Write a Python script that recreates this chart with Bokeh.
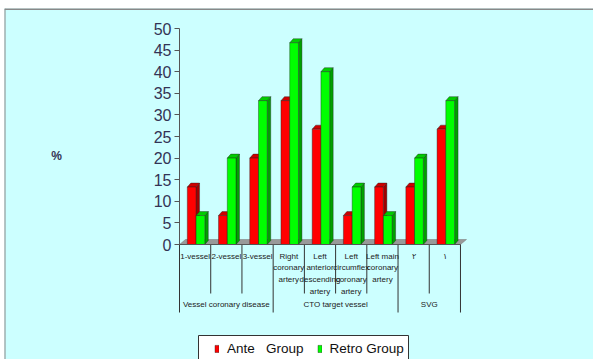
from bokeh.plotting import figure
from bokeh.models import (LinearAxis, FixedTicker, Range1d, Legend, LegendItem, Span)
from bokeh.core.properties import value
from bokeh.embed import file_html
from bokeh.resources import INLINE

# ---- data ----
categories = ["1-vessel", "2-vessel", "3-vessel",
              "Right\ncoronary\nartery",
              "Left\nanterior\ndescending\nartery",
              "Left\ncircumflex\ncoronary\nartery",
              "Left main\ncoronary\nartery",
              "\u0662", "\u0661"]
groups = ["Vessel coronary disease", "CTO target vessel", "SVG"]
group_sizes = [3, 4, 2]
ante = [13.3, 6.7, 20.0, 33.3, 26.7, 6.7, 13.3, 13.3, 26.7]
retro = [6.7, 20.0, 33.3, 46.7, 40.0, 13.3, 6.7, 20.0, 33.3]
y_ticks = [0, 5, 10, 15, 20, 25, 30, 35, 40, 45, 50]
series_names = ["Ante   Group", "Retro Group"]

# ---- geometry / style ----
W, H = 593, 359
PX_X = 31.22   # px per category
PX_Y = 4.32    # px per percent
left_px, top_px = 4, 8
axis_px, zero_px = 179, 244
xs = -(axis_px - left_px) / PX_X
xe = xs + (W - left_px) / PX_X
ye = 50 + (28 - top_px) / PX_Y
ys = ye - (H - top_px) / PX_Y

def dx(px):
    return (px - axis_px) / PX_X

def dy(py):
    return (zero_px - py) / PX_Y

NARROW = "Liberation Sans Narrow, Liberation Sans, Arial"

p = figure(width=W, height=H, output_backend="svg", toolbar_location=None,
           x_axis_type=None, y_axis_type=None,
           x_range=Range1d(xs, xe), y_range=Range1d(ys, ye),
           min_border_left=left_px, min_border_top=top_px,
           min_border_right=0, min_border_bottom=0)
p.border_fill_color = "white"
p.background_fill_color = "#CCFFFF"
p.outline_line_color = None
p.grid.visible = False
p.add_layout(Span(location=ye, dimension="width", line_color="#888888", line_width=3))
p.add_layout(Span(location=xs, dimension="height", line_color="#888888", line_width=2))

n = len(categories)
bar_w = 0.28
dxb, dyb = 3.5 / PX_X, 4 / PX_Y   # bar depth
dxf, dyf = 6 / PX_X, 5 / PX_Y     # floor depth

# floor
p.patch([0, n, n + dxf, dxf], [0, 0, dyf, dyf], fill_color="#999999",
        line_color="#777777", line_width=0.5)

renderers = []
for s, (vals, front, side, top) in enumerate([
        (ante, "#FF0000", "#A00000", "#CC0000"),
        (retro, "#00FF00", "#00A000", "#00CC00")]):
    xc = [i + 0.39 + s * bar_w for i in range(n)]
    sx, sy, tx, ty = [], [], [], []
    for x, v in zip(xc, vals):
        r = x + bar_w / 2
        l = x - bar_w / 2
        sx.append([r, r + dxb, r + dxb, r])
        sy.append([0, dyb, v + dyb, v])
        tx.append([l, r, r + dxb, l + dxb])
        ty.append([v, v, v + dyb, v + dyb])
    p.patches(sx, sy, fill_color=side, line_color="#222222", line_width=0.4)
    p.patches(tx, ty, fill_color=top, line_color="#222222", line_width=0.4)
    r_ = p.vbar(x=xc, top=vals, bottom=0, width=bar_w, fill_color=front,
                line_color="#222222", line_width=0.4)
    renderers.append(r_)

# y axis
ax = LinearAxis(fixed_location=0, bounds=(0, 50),
                ticker=FixedTicker(ticks=y_ticks))
ax.axis_line_color = "#555555"
ax.major_tick_line_color = "#555555"
ax.major_tick_out = 5
ax.major_tick_in = 0
ax.minor_tick_line_color = None
ax.major_label_text_font = "Liberation Sans"
ax.major_label_text_font_size = "16px"
ax.major_label_text_color = "#333355"
ax.major_label_standoff = 3
p.add_layout(ax, "left")

# category separators and labels
bounds = [0]
for g in group_sizes:
    bounds.append(bounds[-1] + g)
inner = [i for i in range(1, n) if i not in bounds]
p.segment(x0=inner, y0=[0] * len(inner), x1=inner, y1=[dy(293)] * len(inner),
          line_color="#333333", line_width=1)
p.segment(x0=bounds, y0=[0] * len(bounds), x1=bounds, y1=[dy(312)] * len(bounds),
          line_color="#333333", line_width=1)
p.segment(x0=[0], y0=[0], x1=[n], y1=[0], line_color="#555555", line_width=1)

p.text(x=[i + 0.5 for i in range(n)], y=[dy(251)] * n,
       text=categories, text_align="center", text_baseline="top",
       text_font=value(NARROW), text_font_size="8px",
       text_line_height=1.3, text_color="#222222")
gx = [(bounds[i] + bounds[i + 1]) / 2 for i in range(len(groups))]
p.text(x=gx, y=[dy(304)] * len(groups), text=groups,
       text_align="center", text_baseline="middle",
       text_font=value(NARROW), text_font_size="8px",
       text_color="#222222")

# % label
p.text(x=[dx(56)], y=[dy(155)], text=["%"],
       text_align="center", text_baseline="middle",
       text_font=value("Liberation Sans"), text_font_size="12px",
       text_font_style="bold", text_color="#333355")

# legend box
p.quad(left=[dx(198)], right=[dx(408)], top=[dy(335)], bottom=[dy(370)],
       fill_color="white", line_color="#333333", line_width=1)
legend = Legend(items=[LegendItem(label=series_names[0], renderers=[renderers[0]]),
                       LegendItem(label=series_names[1], renderers=[renderers[1]])],
                orientation="horizontal", location=(210, 3),
                label_text_font="Liberation Sans", label_text_font_size="13.5px",
                label_text_color="#111111", glyph_width=5, glyph_height=9,
                spacing=13, padding=0, margin=0, label_standoff=8,
                border_line_color=None, background_fill_alpha=0)
p.add_layout(legend)

open("out.html", "w").write(file_html(p, INLINE))
